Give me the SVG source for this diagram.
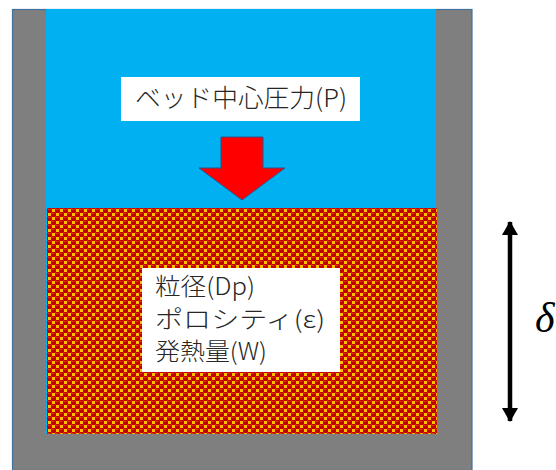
<svg xmlns="http://www.w3.org/2000/svg" width="556" height="470" viewBox="0 0 556 470">
<style>
.jp{font-family:"Noto Sans CJK JP","Noto Sans",sans-serif;font-weight:300;fill:#262626}
.lbl{fill:#ffffff}
</style>
<defs>
<pattern id="sphere" x="47" y="208" width="8" height="8" patternUnits="userSpaceOnUse">
<rect width="8" height="8" fill="#FFC000"/>
<rect x="0" y="0" width="5" height="5" rx="1.5" fill="#C00000"/>
<rect x="4" y="4" width="5" height="5" rx="1.5" fill="#C00000"/>
<rect x="-4" y="4" width="5" height="5" rx="1.5" fill="#C00000"/>
<rect x="4" y="-4" width="5" height="5" rx="1.5" fill="#C00000"/>
<rect x="-4" y="-4" width="5" height="5" rx="1.5" fill="#C00000"/>
<rect x="1" y="1" width="2" height="1" fill="#E03A10"/>
<rect x="5" y="5" width="2" height="1" fill="#E03A10"/>
</pattern>
<marker id="ah" markerUnits="userSpaceOnUse" markerWidth="16" markerHeight="16" refX="13" refY="8" orient="auto-start-reverse" viewBox="0 0 14 16">
<path d="M0,0 L14,8 L0,16 Z" fill="#000"/>
</marker>
</defs>
<rect width="556" height="470" fill="#ffffff"/>
<g id="vessel">
<rect x="12.5" y="9.5" width="459.5" height="461" fill="#7F7F7F" stroke="#41719C" stroke-width="1.2"/>
<rect x="46" y="9" width="390" height="425" fill="#00B0F0"/>
</g>
<g id="bed">
<rect x="47" y="208" width="390" height="226" fill="url(#sphere)"/>
</g>
<g id="pressure-label">
<rect class="lbl" x="121" y="77" width="239" height="44"/>
<text class="jp" x="135" y="107" font-size="25" textLength="212" lengthAdjust="spacingAndGlyphs">ベッド中心圧力(P)</text>
</g>
<g id="pressure-arrow">
<polygon points="221,137 263,137 263,168 285,168 242,200 199,168 221,168" fill="#FF0000" stroke="#2F528F" stroke-width="1"/>
</g>
<g id="props-label">
<rect class="lbl" x="142" y="268" width="198" height="104"/>
<text class="jp" x="155" y="295" font-size="24" textLength="100" lengthAdjust="spacingAndGlyphs">粒径(Dp)</text>
<text class="jp" x="155" y="327.5" font-size="24" textLength="170" lengthAdjust="spacingAndGlyphs">ポロシティ(ε)</text>
<text class="jp" x="155" y="360" font-size="24" textLength="112" lengthAdjust="spacingAndGlyphs">発熱量(W)</text>
</g>
<g id="connectors">
<line x1="510" y1="222" x2="510" y2="421" stroke="#000" stroke-width="4.5" marker-start="url(#ah)" marker-end="url(#ah)"/>
</g>
<g id="delta">
<text x="535" y="332" font-family="'Liberation Serif',serif" font-style="italic" font-size="42" fill="#000">δ</text>
</g>
</svg>
